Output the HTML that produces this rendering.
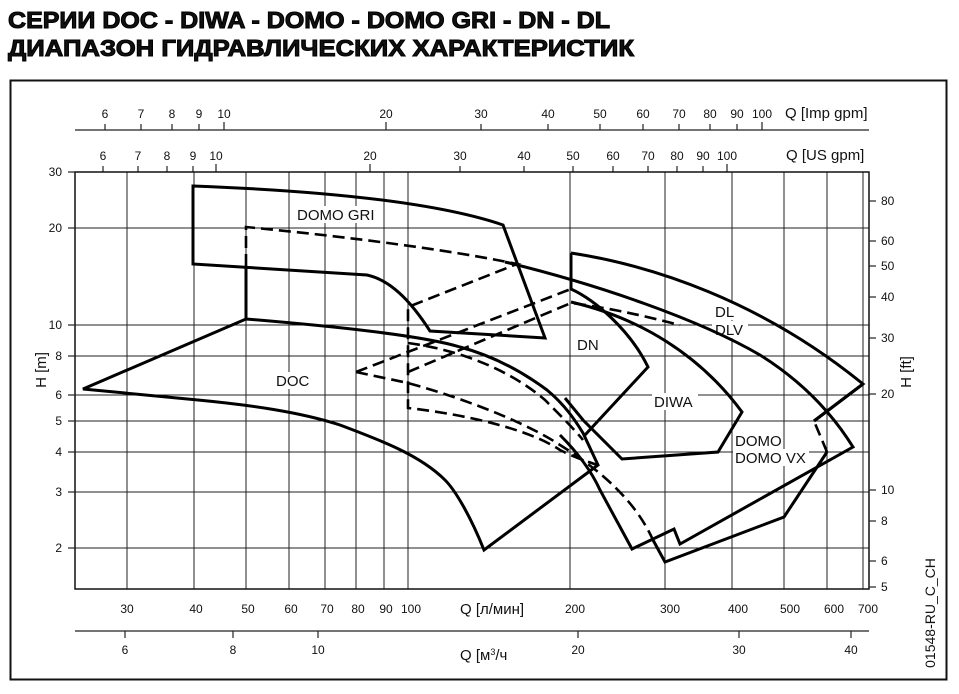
<!DOCTYPE html>
<html><head><meta charset="utf-8"><style>
body{margin:0;background:#fff;}
svg{display:block;}
text{font-family:"Liberation Sans",Arial,sans-serif;fill:#111;}
</style></head><body>
<svg width="959" height="694" viewBox="0 0 959 694" xmlns="http://www.w3.org/2000/svg">
<rect width="959" height="694" fill="#fff"/>
<text x="8" y="28" font-size="23" font-weight="bold" stroke="#000" stroke-width="1" textLength="602" lengthAdjust="spacingAndGlyphs">СЕРИИ DOC - DIWA - DOMO - DOMO GRI - DN - DL</text>
<text x="8" y="56" font-size="23" font-weight="bold" stroke="#000" stroke-width="1" textLength="626" lengthAdjust="spacingAndGlyphs">ДИАПАЗОН ГИДРАВЛИЧЕСКИХ ХАРАКТЕРИСТИК</text>
<rect x="10.5" y="80.5" width="936" height="599" fill="none" stroke="#111" stroke-width="2"/>

<g stroke="#222" stroke-width="1.2" fill="none">
<line x1="75" y1="130" x2="869" y2="130"/>
<line x1="105" y1="130" x2="105" y2="124"/><line x1="141" y1="130" x2="141" y2="124"/><line x1="172" y1="130" x2="172" y2="124"/><line x1="199" y1="130" x2="199" y2="124"/><line x1="224" y1="130" x2="224" y2="122"/><line x1="386" y1="130" x2="386" y2="122"/><line x1="481" y1="130" x2="481" y2="124"/><line x1="548" y1="130" x2="548" y2="124"/><line x1="600" y1="130" x2="600" y2="124"/><line x1="643" y1="130" x2="643" y2="124"/><line x1="679" y1="130" x2="679" y2="124"/><line x1="710" y1="130" x2="710" y2="124"/><line x1="737" y1="130" x2="737" y2="124"/><line x1="762" y1="130" x2="762" y2="122"/>
<line x1="103" y1="172" x2="103" y2="166"/><line x1="138" y1="172" x2="138" y2="166"/><line x1="167" y1="172" x2="167" y2="166"/><line x1="193" y1="172" x2="193" y2="166"/><line x1="216" y1="172" x2="216" y2="164"/><line x1="370" y1="172" x2="370" y2="164"/><line x1="460" y1="172" x2="460" y2="166"/><line x1="524" y1="172" x2="524" y2="166"/><line x1="573" y1="172" x2="573" y2="166"/><line x1="613" y1="172" x2="613" y2="166"/><line x1="648" y1="172" x2="648" y2="166"/><line x1="677" y1="172" x2="677" y2="166"/><line x1="703" y1="172" x2="703" y2="166"/><line x1="727" y1="172" x2="727" y2="164"/>
</g>
<g font-size="12" text-anchor="middle">
<text x="105" y="118">6</text><text x="141" y="118">7</text><text x="172" y="118">8</text><text x="199" y="118">9</text><text x="224" y="118">10</text><text x="386" y="118">20</text><text x="481" y="118">30</text><text x="548" y="118">40</text><text x="600" y="118">50</text><text x="643" y="118">60</text><text x="679" y="118">70</text><text x="710" y="118">80</text><text x="737" y="118">90</text><text x="762" y="118">100</text>
<text x="103" y="160">6</text><text x="138" y="160">7</text><text x="167" y="160">8</text><text x="193" y="160">9</text><text x="216" y="160">10</text><text x="370" y="160">20</text><text x="460" y="160">30</text><text x="524" y="160">40</text><text x="573" y="160">50</text><text x="613" y="160">60</text><text x="648" y="160">70</text><text x="677" y="160">80</text><text x="703" y="160">90</text><text x="727" y="160">100</text>
</g>
<text x="785" y="118" font-size="15">Q [Imp gpm]</text>
<text x="786" y="160" font-size="15">Q [US gpm]</text>

<g stroke="#222" stroke-width="1" fill="none">
<line x1="75" y1="228" x2="869" y2="228"/><line x1="75" y1="325" x2="869" y2="325"/><line x1="75" y1="356" x2="869" y2="356"/><line x1="75" y1="395" x2="869" y2="395"/><line x1="75" y1="421" x2="869" y2="421"/><line x1="75" y1="452" x2="869" y2="452"/><line x1="75" y1="492" x2="869" y2="492"/><line x1="75" y1="548" x2="869" y2="548"/>
<line x1="127" y1="172" x2="127" y2="589"/><line x1="194" y1="172" x2="194" y2="589"/><line x1="246" y1="172" x2="246" y2="589"/><line x1="289" y1="172" x2="289" y2="589"/><line x1="325" y1="172" x2="325" y2="589"/><line x1="356" y1="172" x2="356" y2="589"/><line x1="384" y1="172" x2="384" y2="589"/><line x1="408" y1="172" x2="408" y2="589"/><line x1="570" y1="172" x2="570" y2="589"/><line x1="665" y1="172" x2="665" y2="589"/><line x1="732" y1="172" x2="732" y2="589"/><line x1="784" y1="172" x2="784" y2="589"/><line x1="827" y1="172" x2="827" y2="589"/><line x1="863" y1="172" x2="863" y2="589"/>
</g>
<rect x="75" y="172" width="794" height="417" fill="none" stroke="#111" stroke-width="1.5"/>
<g stroke="#222" stroke-width="1.2">
<line x1="869" y1="201" x2="876" y2="201"/><line x1="869" y1="241" x2="876" y2="241"/><line x1="869" y1="266" x2="876" y2="266"/><line x1="869" y1="297" x2="876" y2="297"/><line x1="869" y1="338" x2="876" y2="338"/><line x1="869" y1="394" x2="876" y2="394"/><line x1="869" y1="490" x2="876" y2="490"/><line x1="869" y1="521" x2="876" y2="521"/><line x1="869" y1="561" x2="876" y2="561"/><line x1="869" y1="587" x2="876" y2="587"/>
<line x1="68" y1="172" x2="75" y2="172"/><line x1="68" y1="228" x2="75" y2="228"/><line x1="68" y1="325" x2="75" y2="325"/><line x1="68" y1="356" x2="75" y2="356"/><line x1="68" y1="395" x2="75" y2="395"/><line x1="68" y1="421" x2="75" y2="421"/><line x1="68" y1="452" x2="75" y2="452"/><line x1="68" y1="492" x2="75" y2="492"/><line x1="68" y1="548" x2="75" y2="548"/>
</g>
<g font-size="12" text-anchor="end">
<text x="62" y="176">30</text><text x="62" y="232">20</text><text x="62" y="329">10</text><text x="62" y="360">8</text><text x="62" y="399">6</text><text x="62" y="425">5</text><text x="62" y="456">4</text><text x="62" y="496">3</text><text x="62" y="552">2</text>
</g>
<g font-size="12">
<text x="881" y="205">80</text><text x="881" y="245">60</text><text x="881" y="270">50</text><text x="881" y="301">40</text><text x="881" y="342">30</text><text x="881" y="398">20</text><text x="881" y="494">10</text><text x="881" y="525">8</text><text x="881" y="565">6</text><text x="881" y="591">5</text>
</g>
<text transform="translate(46,370) rotate(-90)" font-size="15" text-anchor="middle">H [m]</text>
<text transform="translate(911,372) rotate(-90)" font-size="15" text-anchor="middle">H [ft]</text>
<text transform="translate(935,613) rotate(-90)" font-size="14" text-anchor="middle">01548-RU_C_CH</text>

<g font-size="12" text-anchor="middle">
<text x="127" y="613">30</text><text x="196" y="613">40</text><text x="248" y="613">50</text><text x="291" y="613">60</text><text x="327" y="613">70</text><text x="358" y="613">80</text><text x="386" y="613">90</text><text x="411" y="613">100</text><text x="575" y="613">200</text><text x="670" y="613">300</text><text x="738" y="613">400</text><text x="790" y="613">500</text><text x="834" y="613">600</text><text x="868" y="613">700</text>
<text x="125" y="654">6</text><text x="233" y="654">8</text><text x="318" y="654">10</text><text x="578" y="654">20</text><text x="739" y="654">30</text><text x="851" y="654">40</text>
</g>
<text x="460" y="614" font-size="15">Q [л/мин]</text>
<text x="460" y="660" font-size="15">Q [м<tspan font-size="9" dy="-5">3</tspan><tspan dy="5">/ч</tspan></text>
<g stroke="#222" stroke-width="1.2">
<line x1="75" y1="631" x2="869" y2="631"/>
<line x1="125" y1="631" x2="125" y2="638"/><line x1="233" y1="631" x2="233" y2="638"/><line x1="318" y1="631" x2="318" y2="638"/><line x1="578" y1="631" x2="578" y2="638"/><line x1="739" y1="631" x2="739" y2="638"/><line x1="851" y1="631" x2="851" y2="638"/>
</g>

<g fill="#fff">
<rect x="295" y="206" width="86" height="17"/><rect x="274" y="372" width="36" height="17"/><rect x="575" y="336" width="28" height="17"/>
<rect x="712" y="303" width="26" height="17"/><rect x="712" y="321" width="36" height="17"/><rect x="652" y="393" width="46" height="17"/>
<rect x="733" y="432" width="50" height="17"/><rect x="733" y="449" width="76" height="17"/>
</g>
<g font-size="15">
<text x="297" y="220">DOMO GRI</text><text x="276" y="386">DOC</text><text x="577" y="350">DN</text>
<text x="715" y="317">DL</text><text x="715" y="335">DLV</text><text x="654" y="407">DIWA</text>
<text x="735" y="446">DOMO</text><text x="735" y="463">DOMO VX</text>
</g>

<g stroke="#000" stroke-width="3" fill="none" stroke-linejoin="miter">
<path d="M193,186 C300,190 430,200 503,225 L545,338 L430,331 C410,300 390,280 367,275 L193,264 Z"/>
<path d="M83,389 L246,319 C330,326 420,335 460,347 C490,355 520,370 547,390 C565,405 575,420 583,433 L598,465 L484,550 C470,515 455,490 445,480 C420,455 380,440 340,425 C300,412 250,405 198,400 Z"/>
<path d="M246,266 L246,319"/>
<path d="M571,253 L571,289 C595,300 630,330 648,367 L585,435"/>
<path d="M571,253 C650,265 760,300 863,384 L814,421"/>
<path d="M505,262 C600,285 700,320 760,355 C800,380 830,410 853,447 L680,544 L674,529 L632,549 L600,490 C590,468 575,450 560,435"/>
<path d="M571,302 C640,318 700,355 742,412 L718,452 L622,459 L583,420 L565,398"/>
<path d="M653,540 L665,562 L784,517 L827,452"/>
<path d="M814,421 L863,384"/>
</g>
<g stroke="#000" stroke-width="2.6" fill="none" stroke-dasharray="12,6">
<path d="M246,266 L246,227 C350,237 450,250 517,264 L408,307 L408,408 C470,415 530,430 560,450 C580,460 590,462 597,465"/>
<path d="M356,372 L571,289"/>
<path d="M408,372 L571,303 C610,308 640,315 680,325"/>
<path d="M356,372 L408,383 C470,400 530,425 560,445 C600,470 635,500 653,540"/>
<path d="M408,343 C460,350 510,370 545,400 C560,415 575,430 583,440"/>
<path d="M827,452 L814,421"/>
</g>
</svg>
</body></html>
